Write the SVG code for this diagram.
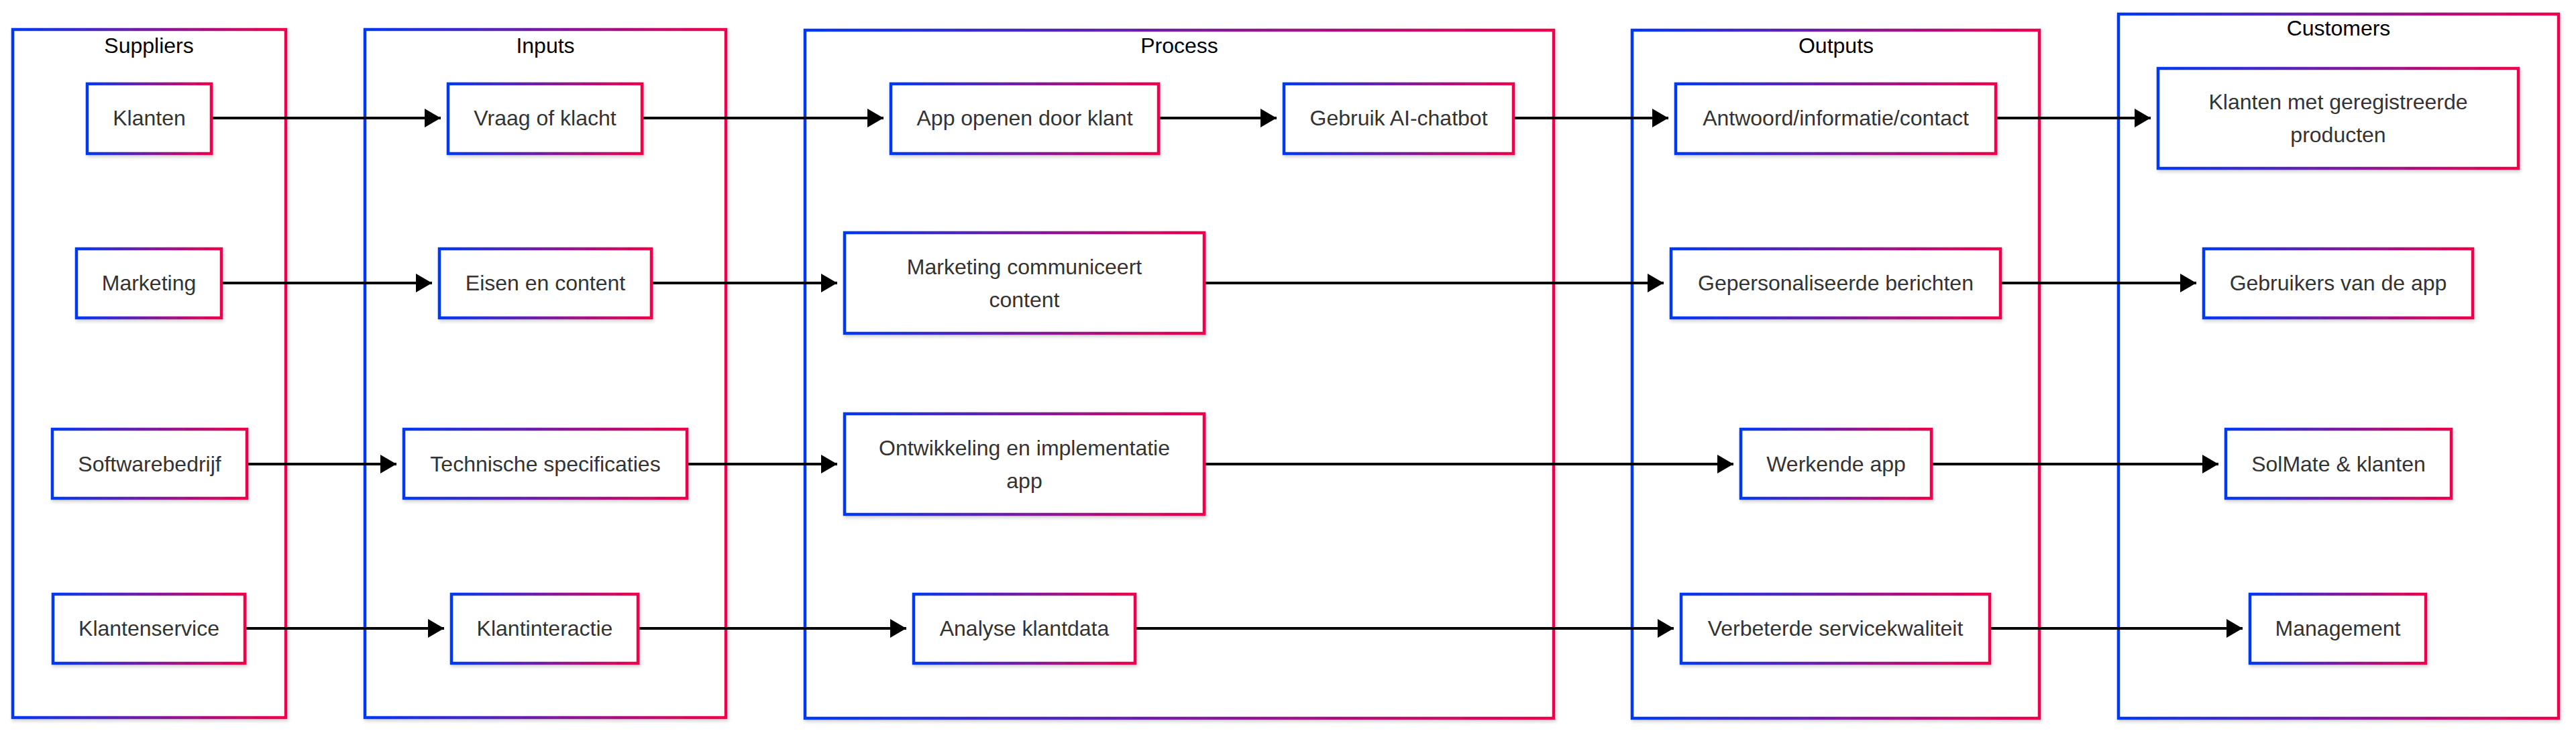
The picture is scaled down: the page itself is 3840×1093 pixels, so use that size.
<svg xmlns="http://www.w3.org/2000/svg" width="3840" height="1093" viewBox="0 0 3840 1093">
<defs>
<linearGradient id="g" x1="0" y1="0" x2="1" y2="0">
<stop offset="0" stop-color="#0038F5"/>
<stop offset="1" stop-color="#F0004B"/>
</linearGradient>
<filter id="sh" x="-5%" y="-5%" width="110%" height="115%">
<feDropShadow dx="1.5" dy="3" stdDeviation="2.5" flood-color="#000" flood-opacity="0.18"/>
</filter>
<marker id="ah" markerUnits="userSpaceOnUse" markerWidth="24" markerHeight="28" refX="24" refY="14" orient="auto">
<path d="M0,0 L24,14 L0,28 Z" fill="#000"/>
</marker>
<style>
.box{fill:#fff;stroke:url(#g);stroke-width:4.5;filter:url(#sh)}
.t{font-family:"Liberation Sans",Arial,sans-serif;font-size:32px;fill:#333;text-anchor:middle}
.title{font-family:"Liberation Sans",Arial,sans-serif;font-size:32px;fill:#000;text-anchor:middle}
.edge{stroke:#000;stroke-width:4;fill:none;marker-end:url(#ah)}
</style>
</defs>
<rect width="3840" height="1093" fill="#fff"/>

<g id="suppliers">
<rect class="box" x="19" y="44" width="407" height="1026"/>
<text class="title" x="222" y="79">Suppliers</text>
</g>
<g id="inputs">
<rect class="box" x="544" y="44" width="538" height="1026"/>
<text class="title" x="813" y="79">Inputs</text>
</g>
<g id="process">
<rect class="box" x="1200" y="45" width="1116" height="1026"/>
<text class="title" x="1758" y="79">Process</text>
</g>
<g id="outputs">
<rect class="box" x="2433" y="45" width="607" height="1026"/>
<text class="title" x="2737" y="79">Outputs</text>
</g>
<g id="customers">
<rect class="box" x="3158" y="21" width="656" height="1050"/>
<text class="title" x="3486" y="53">Customers</text>
</g>

<g id="connectors">
<line class="edge" x1="317" y1="176" x2="657" y2="176"/>
<line class="edge" x1="959" y1="176" x2="1317" y2="176"/>
<line class="edge" x1="1729" y1="176" x2="1903" y2="176"/>
<line class="edge" x1="2258" y1="176" x2="2487" y2="176"/>
<line class="edge" x1="2977" y1="176" x2="3206" y2="176"/>

<line class="edge" x1="332" y1="422" x2="644" y2="422"/>
<line class="edge" x1="973" y1="422" x2="1248" y2="422"/>
<line class="edge" x1="1797" y1="422" x2="2480" y2="422"/>
<line class="edge" x1="2984" y1="422" x2="3274" y2="422"/>

<line class="edge" x1="370" y1="692" x2="591" y2="692"/>
<line class="edge" x1="1026" y1="692" x2="1248" y2="692"/>
<line class="edge" x1="1797" y1="692" x2="2584" y2="692"/>
<line class="edge" x1="2881" y1="692" x2="3307" y2="692"/>

<line class="edge" x1="367" y1="937" x2="662" y2="937"/>
<line class="edge" x1="953" y1="937" x2="1351" y2="937"/>
<line class="edge" x1="1694" y1="937" x2="2495" y2="937"/>
<line class="edge" x1="2968" y1="937" x2="3343" y2="937"/>
</g>

<g id="klanten"><rect class="box" x="130" y="125" width="185" height="104"/><text class="t" x="222.5" y="187">Klanten</text></g>
<g id="marketing"><rect class="box" x="114" y="371" width="216" height="103"/><text class="t" x="222" y="433">Marketing</text></g>
<g id="softwarebedrijf"><rect class="box" x="78" y="640" width="290" height="103"/><text class="t" x="223" y="703">Softwarebedrijf</text></g>
<g id="klantenservice"><rect class="box" x="79" y="886" width="286" height="103"/><text class="t" x="222" y="948">Klantenservice</text></g>

<g id="vraag"><rect class="box" x="668" y="125" width="289" height="104"/><text class="t" x="812.5" y="187">Vraag of klacht</text></g>
<g id="eisen"><rect class="box" x="655" y="371" width="316" height="103"/><text class="t" x="813" y="433">Eisen en content</text></g>
<g id="technische"><rect class="box" x="602" y="640" width="422" height="103"/><text class="t" x="813" y="703">Technische specificaties</text></g>
<g id="klantinteractie"><rect class="box" x="673" y="886" width="278" height="103"/><text class="t" x="812" y="948">Klantinteractie</text></g>

<g id="appopenen"><rect class="box" x="1328" y="125" width="399" height="104"/><text class="t" x="1527.5" y="187">App openen door klant</text></g>
<g id="chatbot"><rect class="box" x="1914" y="125" width="342" height="104"/><text class="t" x="2085" y="187">Gebruik AI-chatbot</text></g>
<g id="marketingcomm"><rect class="box" x="1259" y="347" width="536" height="150"/><text class="t" x="1527" y="409">Marketing communiceert</text><text class="t" x="1527" y="458">content</text></g>
<g id="ontwikkeling"><rect class="box" x="1259" y="617" width="536" height="150"/><text class="t" x="1527" y="679">Ontwikkeling en implementatie</text><text class="t" x="1527" y="728">app</text></g>
<g id="analyse"><rect class="box" x="1362" y="886" width="330" height="103"/><text class="t" x="1527" y="948">Analyse klantdata</text></g>

<g id="antwoord"><rect class="box" x="2498" y="125" width="477" height="104"/><text class="t" x="2736.5" y="187">Antwoord/informatie/contact</text></g>
<g id="gepersonaliseerd"><rect class="box" x="2491" y="371" width="491" height="103"/><text class="t" x="2736.5" y="433">Gepersonaliseerde berichten</text></g>
<g id="werkende"><rect class="box" x="2595" y="640" width="284" height="103"/><text class="t" x="2737" y="703">Werkende app</text></g>
<g id="verbeterde"><rect class="box" x="2506" y="886" width="460" height="103"/><text class="t" x="2736" y="948">Verbeterde servicekwaliteit</text></g>

<g id="geregistreerd"><rect class="box" x="3217" y="102" width="537" height="149"/><text class="t" x="3485.5" y="163">Klanten met geregistreerde</text><text class="t" x="3485.5" y="212">producten</text></g>
<g id="gebruikers"><rect class="box" x="3285" y="371" width="401" height="103"/><text class="t" x="3485.5" y="433">Gebruikers van de app</text></g>
<g id="solmate"><rect class="box" x="3318" y="640" width="336" height="103"/><text class="t" x="3486" y="703">SolMate &amp; klanten</text></g>
<g id="management"><rect class="box" x="3354" y="886" width="262" height="103"/><text class="t" x="3485" y="948">Management</text></g>
</svg>
